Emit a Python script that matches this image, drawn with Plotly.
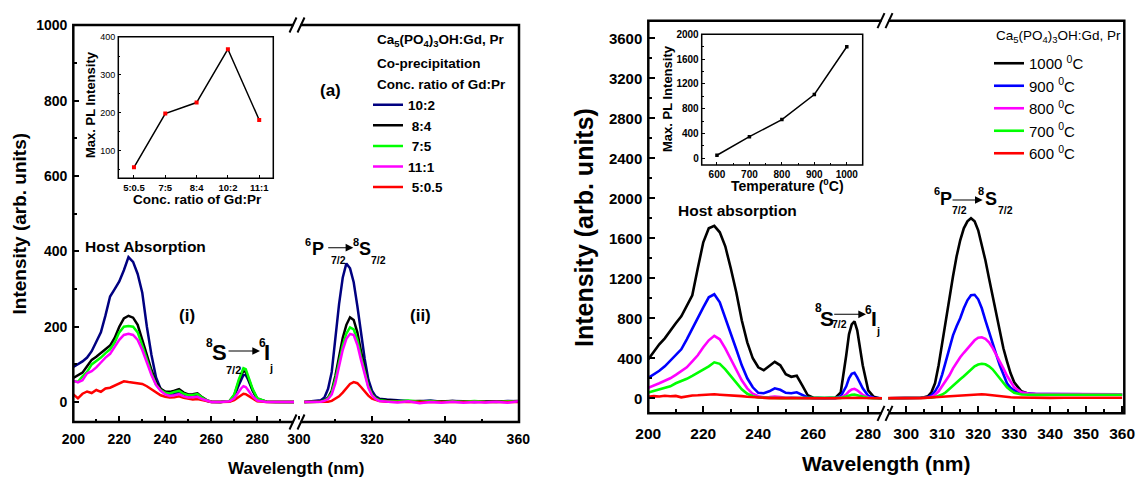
import plotly.graph_objects as go

W, H = 1136, 481
FONT = "Arial, 'Liberation Sans', sans-serif"


def px(x):
    return x / W


def py(y):
    return 1 - y / H


# ---------------- Panel (a): Gd:Pr concentration ratio ----------------
wl_a1 = [200, 202, 204, 206, 208, 210, 212, 214, 216, 218, 220, 222, 224, 226, 228, 230,
         232, 234, 236, 238, 240, 242, 244, 246, 248, 250, 252, 254, 256, 258, 260, 264,
         268, 270, 272, 273, 274, 275, 276, 278, 280, 284, 288, 292, 296]
a_10_2_1 = [93, 100, 108, 118, 135, 160, 185, 230, 280, 300, 320, 350, 385, 372, 340, 290,
            200, 125, 65, 35, 25, 20, 22, 26, 18, 15, 18, 15, 8, 3, 0, 0,
            2, 15, 45, 60, 72, 72, 60, 30, 8, 1, 0, 0, 0]
a_8_4_1 = [64, 70, 78, 95, 112, 120, 130, 140, 150, 170, 200, 222, 229, 224, 205, 165,
           122, 85, 52, 35, 28, 27, 30, 34, 25, 20, 21, 23, 13, 5, 1, 0,
           3, 18, 55, 72, 82, 80, 65, 32, 9, 1, 0, 0, 0]
a_7_5_1 = [55, 54, 68, 80, 100, 108, 118, 130, 140, 158, 185, 200, 202, 200, 185, 150,
           112, 76, 46, 32, 25, 23, 27, 30, 22, 18, 19, 21, 12, 4, 1, 0,
           3, 20, 60, 78, 90, 87, 70, 35, 10, 1, 0, 0, 0]
a_11_1_1 = [57, 52, 58, 76, 82, 92, 105, 118, 128, 145, 165, 178, 181, 178, 165, 138,
            104, 72, 45, 30, 20, 16, 18, 21, 15, 12, 13, 14, 8, 3, 0, 0,
            2, 10, 28, 36, 42, 40, 32, 15, 4, 0, 0, 0, 0]
a_5_05_1 = [20, 10, 22, 28, 24, 32, 27, 36, 38, 43, 48, 55, 53, 52, 51, 48,
            42, 34, 26, 18, 14, 12, 13, 15, 11, 8, 7, 8, 5, 2, 0, 0,
            1, 5, 14, 19, 22, 21, 17, 8, 2, 0, 0, 0, 0]

wl_a2 = [301.5, 303, 305, 306, 307, 308, 309, 310, 311, 312, 313, 314, 315, 316, 317, 318,
         319, 320, 321, 322, 324, 327, 330, 333, 336, 339, 342, 345, 348, 351, 354, 357, 360]
a_10_2_2 = [0, 1, 3, 5, 12, 35, 80, 170, 260, 330, 368, 355, 318, 255, 185, 115,
            60, 30, 15, 9, 7, 4, 3, 2, 4, 1, 3, 2, 0, 2, 1, 3, 2]
a_8_4_2 = [0, 0, 1, 2, 5, 12, 30, 70, 120, 170, 205, 225, 218, 185, 135, 85,
           45, 22, 11, 7, 5, 3, 2, 3, 1, 2, 3, 1, 2, 0, 2, 1, 3]
a_7_5_2 = [0, 0, 1, 1, 4, 10, 25, 60, 105, 150, 182, 198, 193, 165, 120, 78,
           42, 20, 10, 5, 3, 2, 4, 1, 3, 0, 2, 1, 3, 1, 0, 2, 1]
a_11_1_2 = [0, 0, 0, 1, 3, 8, 20, 50, 95, 138, 168, 181, 178, 152, 112, 72,
            38, 18, 8, 3, 1, -1, 2, -3, 0, -2, 1, -2, 0, -1, 1, -2, 2]
a_5_05_2 = [0, 0, 0, 0, 0, 1, 3, 8, 15, 25, 37, 48, 53, 50, 40, 28,
            17, 9, 5, 3, 1, 0, 0, 0, 0, 0, 0, 0, 0, 0, 0, 0, 0]

conc_labels = ["5:0.5", "7:5", "8:4", "10:2", "11:1"]
conc_max_pl = [56, 198, 227, 368, 181]

# ---------------- Panel (b): annealing temperature ----------------
wl_b1 = [200, 202, 204, 206, 208, 210, 212, 214, 216, 218, 220, 222, 224, 226, 228, 230,
         232, 234, 236, 238, 240, 242, 244, 246, 248, 250, 252, 254, 256, 258, 260,
         264, 268, 270, 272, 273, 274, 275, 276, 278, 280, 282, 284, 285]
b_1000_1 = [390, 470, 540, 600, 680, 750, 820, 920, 1030, 1300, 1560, 1700, 1725, 1660, 1520, 1300,
            1060, 780, 560, 400, 310, 280, 320, 365, 330, 240, 215, 225, 130, 30, 5,
            0, 5, 60, 430, 640, 740, 770, 680, 330, 80, 15, 0, 0]
b_900_1 = [205, 240, 275, 320, 375, 430, 490, 590, 700, 800, 910, 1010, 1040, 960, 810, 650,
           490, 330, 200, 110, 55, 50, 70, 100, 85, 55, 50, 60, 35, 8, 2,
           0, 2, 20, 120, 200, 245, 255, 210, 100, 25, 5, 0, 0]
b_800_1 = [105, 125, 150, 175, 200, 235, 270, 310, 370, 430, 510, 580, 625, 590, 500, 390,
           290, 180, 100, 45, 20, 10, 12, 18, 12, 6, 8, 8, 3, 0, 0,
           0, 1, 8, 40, 70, 88, 95, 80, 35, 8, 2, 0, 0]
b_700_1 = [57, 72, 88, 105, 120, 150, 170, 195, 225, 255, 285, 320, 360, 345, 290, 220,
           150, 90, 45, 20, 8, 4, 3, 3, 2, 2, 1, 1, 0, 0, 0,
           0, 0, 4, 18, 28, 35, 38, 30, 12, 3, 0, 0, 0]
b_600_1 = [15, 22, 18, 25, 20, 24, 10, 22, 28, 30, 35, 38, 40, 36, 34, 32,
           28, 22, 15, 10, 5, 3, 2, 2, 1, 1, 0, 0, 0, 0, 0,
           0, 0, 2, 5, 7, 8, 8, 6, 3, 1, 0, 0, 0]

wl_b2 = [295, 298, 300, 302, 304, 305, 306, 307, 308, 309, 310, 311, 312, 313, 314, 315,
         316, 317, 318, 319, 320, 321, 322, 323, 324, 325, 326, 327, 328, 329, 330, 332,
         334, 336, 340, 344, 348, 352, 356, 360]
b_1000_2 = [0, 0, 0, 0, 5, 10, 20, 60, 150, 330, 560, 780, 1000, 1220, 1420, 1580,
            1700, 1770, 1800, 1770, 1680, 1540, 1380, 1200, 1020, 830, 650, 500, 370, 250, 160, 70,
            45, 40, 40, 38, 40, 38, 36, 35]
b_900_2 = [0, 0, 0, 0, 2, 5, 12, 30, 70, 130, 240, 370, 500, 630, 720, 800,
           900, 980, 1030, 1035, 990, 900, 780, 660, 550, 440, 330, 230, 150, 105, 80, 55,
           45, 42, 42, 40, 42, 40, 38, 38]
b_800_2 = [0, 0, 0, 0, 0, 2, 5, 15, 35, 70, 120, 170, 230, 300, 360, 410,
           455, 500, 545, 580, 605, 610, 595, 560, 505, 440, 370, 300, 225, 160, 110, 60,
           48, 45, 44, 44, 42, 42, 40, 40]
b_700_2 = [0, 0, 0, 0, 0, 0, 2, 5, 12, 22, 38, 60, 95, 130, 160, 190,
           220, 255, 290, 320, 338, 345, 340, 320, 290, 245, 200, 150, 110, 80, 55, 38,
           35, 34, 35, 33, 34, 35, 36, 36]
b_600_2 = [2, 0, 3, 0, 2, 4, 5, 8, 10, 12, 15, 18, 20, 24, 28, 30,
           32, 35, 38, 40, 42, 40, 38, 33, 30, 25, 20, 15, 12, 10, 8, 6,
           5, 5, 4, 5, 4, 5, 4, 5]

temp_c = [600, 700, 800, 900, 1000]
temp_max_pl = [50, 350, 625, 1030, 1800]

# ---------------- figure ----------------
fig = go.Figure()

# panel (a) series: (legend text, colour, seg1, seg2, legend rank) in drawing order
series_a = [
    ("10:2", "#000080", a_10_2_1, a_10_2_2, 1),
    ("\u00a08:4", "#000000", a_8_4_1, a_8_4_2, 2),
    ("\u00a07:5", "#00FF00", a_7_5_1, a_7_5_2, 3),
    ("\u00a05:0.5", "#FF0000", a_5_05_1, a_5_05_2, 5),
    ("11:1", "#FF00FF", a_11_1_1, a_11_1_2, 4),
]
for name, col, s1, s2, rank in series_a:
    fig.add_trace(go.Scatter(x=wl_a1, y=s1, xaxis="x", yaxis="y", mode="lines", name=name,
                             line=dict(color=col, width=2.5), legend="legend", legendrank=rank,
                             hoverinfo="skip"))
    fig.add_trace(go.Scatter(x=wl_a2, y=s2, xaxis="x2", yaxis="y", mode="lines", name=name,
                             line=dict(color=col, width=2.5), showlegend=False, hoverinfo="skip"))

series_b = [
    ("1000 <sup>0</sup>C", "#000000", b_1000_1, b_1000_2, 1),
    ("900 <sup>0</sup>C", "#0000FF", b_900_1, b_900_2, 2),
    ("800 <sup>0</sup>C", "#FF00FF", b_800_1, b_800_2, 3),
    ("700 <sup>0</sup>C", "#00FF00", b_700_1, b_700_2, 4),
    ("600 <sup>0</sup>C", "#FF0000", b_600_1, b_600_2, 5),
]
for name, col, s1, s2, rank in series_b:
    fig.add_trace(go.Scatter(x=wl_b1, y=s1, xaxis="x3", yaxis="y2", mode="lines", name=name,
                             line=dict(color=col, width=2.6), legend="legend2", legendrank=rank,
                             hoverinfo="skip"))
    fig.add_trace(go.Scatter(x=wl_b2, y=s2, xaxis="x4", yaxis="y2", mode="lines", name=name,
                             line=dict(color=col, width=2.6), showlegend=False, hoverinfo="skip"))

# insets
fig.add_trace(go.Scatter(x=conc_labels, y=conc_max_pl, xaxis="x5", yaxis="y3", mode="lines+markers",
                         line=dict(color="black", width=1.5),
                         marker=dict(symbol="square", size=4, color="#FF0000"),
                         showlegend=False, hoverinfo="skip"))
fig.add_trace(go.Scatter(x=temp_c, y=temp_max_pl, xaxis="x6", yaxis="y4", mode="lines+markers",
                         line=dict(color="black", width=1.5),
                         marker=dict(symbol="square", size=3.5, color="black"),
                         showlegend=False, hoverinfo="skip"))


def axis(domain, rng, anchor, dtick, tick0, minor_dtick, size, bold=True, ticklen=6, mlen=3.5,
         width=2, standoff=4, **kw):
    d = dict(domain=domain, range=rng, anchor=anchor, showgrid=False, zeroline=False,
             showline=False, ticks="inside", ticklen=ticklen, tickwidth=width, tickcolor="black",
             tickmode="linear", dtick=dtick, tick0=tick0, automargin=False,
             ticklabelstandoff=standoff,
             tickfont=dict(family=FONT, size=size, color="black",
                           weight="bold" if bold else "normal"))
    if minor_dtick:
        d["minor"] = dict(ticks="inside", dtick=minor_dtick, ticklen=mlen,
                          tickwidth=max(1, width * 0.75), tickcolor="black")
    d.update(kw)
    return d


layout = dict(
    width=W, height=H, template="none",
    margin=dict(l=0, r=0, t=0, b=0, pad=0),
    paper_bgcolor="white", plot_bgcolor="rgba(0,0,0,0)",
    hovermode=False,
    xaxis=axis([px(73.3), px(297)], [200, 297.3], "y", 20, 200, 10, 14, standoff=7),
    xaxis2=axis([px(297), px(519)], [299.5, 360.2], "y", 20, 300, 10, 14, standoff=7),
    yaxis=axis([py(422), py(25)], [-53, 1001], "x", 200, 0, 100, 14, standoff=5),
    xaxis3=axis([px(648.3), px(885)], [200, 286.1], "y2", 20, 200, 10, 15.5, ticklen=7, mlen=4,
                standoff=9),
    xaxis4=axis([px(885), px(1124.3)], [294.1, 360.6], "y2", 10, 300, 5, 15.5, ticklen=7, mlen=4,
                standoff=9),
    yaxis2=axis([py(413.3), py(20.7)], [-150, 3776], "x3", 400, 0, 200, 15, ticklen=7, mlen=4,
                standoff=5),
    xaxis5=dict(domain=[px(118.3), px(273.3)], anchor="y3", type="category",
                categoryorder="array", categoryarray=conc_labels, range=[-0.5, 4.45],
                showgrid=False, zeroline=False, showline=False, ticks="inside", ticklen=3,
                tickwidth=1, tickcolor="black", automargin=False, ticklabelstandoff=2,
                tickfont=dict(family=FONT, size=9.5, color="black", weight="bold")),
    yaxis3=axis([py(178.3), py(36.7)], [27, 401], "x5", 100, 0, 50, 9, bold=False, ticklen=3,
                mlen=2, width=1, standoff=2),
    xaxis6=axis([px(701.7), px(862.7)], [553, 1049], "y4", 100, 600, 50, 10, ticklen=3, mlen=2,
                width=1, standoff=2),
    yaxis4=axis([py(165), py(34.3)], [-107, 2001], "x6", 400, 0, 200, 10, ticklen=3, mlen=2,
                width=1, standoff=2),
    legend=dict(x=px(368), y=py(89.5), xanchor="left", yanchor="top", bgcolor="rgba(0,0,0,0)",
                borderwidth=0, itemwidth=30, traceorder="normal",
                font=dict(family=FONT, size=13.5, color="black", weight="bold")),
    legend2=dict(x=px(989), y=py(47), xanchor="left", yanchor="top", bgcolor="rgba(0,0,0,0)",
                 borderwidth=0, itemwidth=30, traceorder="normal",
                 font=dict(family=FONT, size=15, color="black")),
)

# ---------- frames and axis-break marks ----------
shapes = []


def rect(x0, y0, x1, y1, w, fill="rgba(0,0,0,0)", lw_color="black"):
    shapes.append(dict(type="rect", xref="paper", yref="paper", x0=px(x0), x1=px(x1),
                       y0=py(y1), y1=py(y0), line=dict(color=lw_color, width=w),
                       fillcolor=fill, layer="above"))


def seg(x0, y0, x1, y1, w=2):
    shapes.append(dict(type="line", xref="paper", yref="paper", x0=px(x0), y0=py(y0),
                       x1=px(x1), y1=py(y1), line=dict(color="black", width=w), layer="above"))


rect(73.3, 25, 519, 422, 2.5)
rect(648.3, 20.7, 1124.3, 413.3, 2.5)
rect(118.3, 36.7, 273.3, 178.3, 1.5)
rect(701.7, 34.3, 862.7, 165, 1.5)


def brk(xc, yc):
    shapes.append(dict(type="rect", xref="paper", yref="paper", x0=px(xc - 3.5), x1=px(xc + 3.5),
                       y0=py(yc + 2.5), y1=py(yc - 2.5), line=dict(width=0), fillcolor="white",
                       layer="above"))
    seg(xc - 7.5, yc + 7.5, xc - 0.5, yc - 7.5, 2)
    seg(xc + 0.5, yc + 7.5, xc + 7.5, yc - 7.5, 2)


brk(297, 25)
brk(297, 422)
brk(885, 20.7)
brk(885, 413.3)
layout["shapes"] = shapes

# ---------- text ----------
ann = []


def txt(x, y, s, size, bold=True, xanchor="center", yanchor="middle", angle=0):
    ann.append(dict(x=px(x), y=py(y), xref="paper", yref="paper", text=s, showarrow=False,
                    xanchor=xanchor, yanchor=yanchor, textangle=angle,
                    font=dict(family=FONT, size=size, color="black",
                              weight="bold" if bold else "normal")))


def arrow(x0, x1, y):
    ann.append(dict(x=px(x1), y=py(y), xref="paper", yref="paper", ax=x0 - x1, ay=0,
                    axref="pixel", ayref="pixel", text="", showarrow=True, arrowhead=2,
                    arrowsize=1.4, arrowwidth=1.1, arrowcolor="black", standoff=0,
                    startstandoff=0))


# axis titles
txt(296, 468, "Wavelength (nm)", 17)
txt(19, 223.5, "Intensity (arb. units)", 19, angle=-90)
txt(886, 463, "Wavelength (nm)", 21)
txt(584, 228, "Intensity (arb. units)", 25, angle=-90)

# panel (a) texts
txt(375, 40, "Ca<sub>5</sub>(PO<sub>4</sub>)<sub>3</sub>OH:Gd, Pr", 13.5, xanchor="left")
txt(375, 63.3, "Co-precipitation", 13.5, xanchor="left")
txt(375, 85, "Conc. ratio of Gd:Pr", 13.5, xanchor="left")
txt(330, 90, "(a)", 17)
txt(145, 246, "Host Absorption", 15.5)
txt(187, 315, "(i)", 17)
txt(420, 315, "(ii)", 17)
# 8S7/2 -> 6Ij (panel a)
txt(209, 343, "8", 12)
txt(219.5, 352, "S", 22)
txt(233.3, 370, "7/2", 11)
arrow(227, 260, 351)
txt(262, 343, "6", 12)
txt(266.5, 352, "I", 22)
txt(270.5, 368, "j", 11)
# 6P7/2 -> 8S7/2 (panel a)
txt(307.5, 242, "6", 11)
txt(318.3, 249.5, "P", 18)
txt(338, 260, "7/2", 10.5)
arrow(326.7, 353.3, 247.7)
txt(356, 242, "8", 11)
txt(365, 249.5, "S", 18)
txt(378.3, 260, "7/2", 10.5)
# inset (a) titles
txt(91, 105, "Max. PL Intensity", 13, angle=-90)
txt(197.5, 199, "Conc. ratio of Gd:Pr", 13.5)

# panel (b) texts
txt(994, 36, "Ca<sub>5</sub>(PO<sub>4</sub>)<sub>3</sub>OH:Gd, Pr", 13.5, bold=False, xanchor="left")
txt(737, 210, "Host absorption", 15.5)
# 6P7/2 -> 8S7/2 (panel b)
txt(937, 191, "6", 11)
txt(946, 198.5, "P", 18)
txt(959, 210, "7/2", 10.5)
arrow(951, 982.7, 200)
txt(981.5, 191, "8", 11)
txt(991, 198.5, "S", 18)
txt(1005, 210, "7/2", 10.5)
# 8S7/2 -> 6Ij (panel b)
txt(818, 308, "8", 12)
txt(827, 318, "S", 21)
txt(839.5, 324, "7/2", 10.5)
arrow(832.7, 866, 314.3)
txt(868, 310, "6", 12)
txt(873.8, 318, "I", 21)
txt(878, 331, "j", 11)
# inset (b) titles
txt(667, 99, "Max. PL Intensity", 13, angle=-90)
txt(787, 185, "Temperature (<sup>0</sup>C)", 14)

layout["annotations"] = ann
fig.update_layout(**layout)

fig.write_html(
    "out.html",
    config={"displayModeBar": False},
    post_script="document.body.style.margin='0';document.body.style.padding='0';"
                "document.body.style.overflow='hidden';",
)
